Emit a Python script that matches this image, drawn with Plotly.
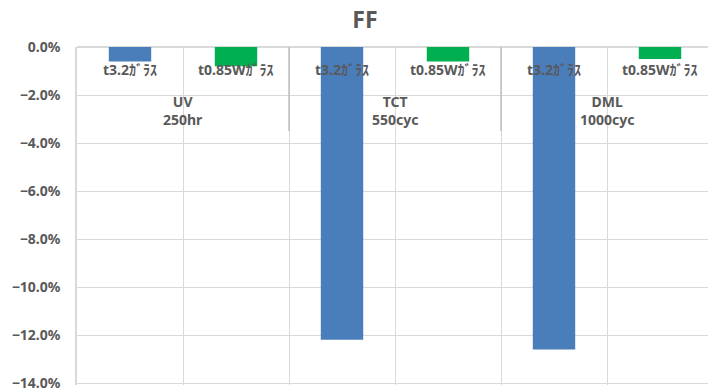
import plotly.graph_objects as go

# Test conditions (outer category) and glass types (inner category)
conditions = ["UV<br>250hr", "TCT<br>550cyc", "DML<br>1000cyc"]
glass_types = ["t3.2ｶﾞﾗｽ", "t0.85Wｶﾞﾗｽ"]

# FF change per condition, one list per glass type
ff_t32 = [-0.006, -0.122, -0.126]
ff_t085w = [-0.008, -0.006, -0.005]

# y-axis tick values
y_ticks = [0, -0.02, -0.04, -0.06, -0.08, -0.10, -0.12, -0.14]

colors = ["#4a7ebb", "#00b050"]
text_color = "#595959"
grid_color = "#d9d9d9"
font_family = "Noto Sans, Noto Sans CJK JP, sans-serif"

# Flattened category positions: condition-major, glass type minor
keys = [f"{c}|{g}" for c in conditions for g in glass_types]

fig = go.Figure()
for gi, (name, vals) in enumerate(zip(glass_types, [ff_t32, ff_t085w])):
    fig.add_trace(go.Bar(
        x=[f"{c}|{name}" for c in conditions],
        y=vals,
        name=name,
        marker=dict(color=colors[gi], line=dict(width=0)),
        width=0.4,
    ))

label_font = dict(size=14, color=text_color, family=font_family, weight="bold")

annotations = []
# inner labels (glass type) just below the zero line
for k in keys:
    annotations.append(dict(
        x=k, y=-0.0095, xref="x", yref="y", text=k.split("|")[1],
        showarrow=False, font=label_font,
    ))
# outer labels (condition) centred between their two bars
n_inner = len(glass_types)
for ci, c in enumerate(conditions):
    centre = ci * n_inner + (n_inner - 1) / 2
    annotations.append(dict(
        x=centre, y=-0.0265, xref="x", yref="y", text=c,
        showarrow=False, font=label_font,
    ))

# group divider ticks through the label band
shapes = []
for ci in range(1, len(conditions)):
    xb = ci * n_inner - 0.5
    shapes.append(dict(type="line", xref="x", yref="y", x0=xb, x1=xb,
                       y0=0, y1=-0.035, line=dict(color="#bfbfbf", width=1.5)))

fig.update_layout(
    width=708, height=392,
    margin=dict(l=77, r=0, t=47, b=3),
    paper_bgcolor="white", plot_bgcolor="white",
    barmode="overlay",
    showlegend=False,
    title=dict(text="<b>FF</b>", x=365 / 708, xref="container", xanchor="center",
               y=1 - 20 / 392, yref="container", yanchor="middle",
               font=dict(size=23, color=text_color, family=font_family)),
    xaxis=dict(
        type="category", categoryorder="array", categoryarray=keys,
        range=[-0.5, len(keys) - 0.5 - 5 / 106],
        tickson="boundaries", showgrid=True, gridcolor=grid_color, gridwidth=1,
        showticklabels=False, ticks="", zeroline=False,
        showline=False,
    ),
    yaxis=dict(
        range=[-0.1408, 0], tickmode="array", tickvals=y_ticks, tickformat=".1%",
        showgrid=True, gridcolor=grid_color, gridwidth=1,
        zeroline=True, zerolinecolor=grid_color, zerolinewidth=1.5,
        showline=True, linecolor=grid_color, linewidth=1.5,
        tickfont=dict(size=14, color=text_color, family=font_family, weight="bold"),
        ticklabelstandoff=12, ticklabeloverflow="allow",
    ),
    annotations=annotations,
    shapes=shapes,
)

fig.write_html("out.html")
